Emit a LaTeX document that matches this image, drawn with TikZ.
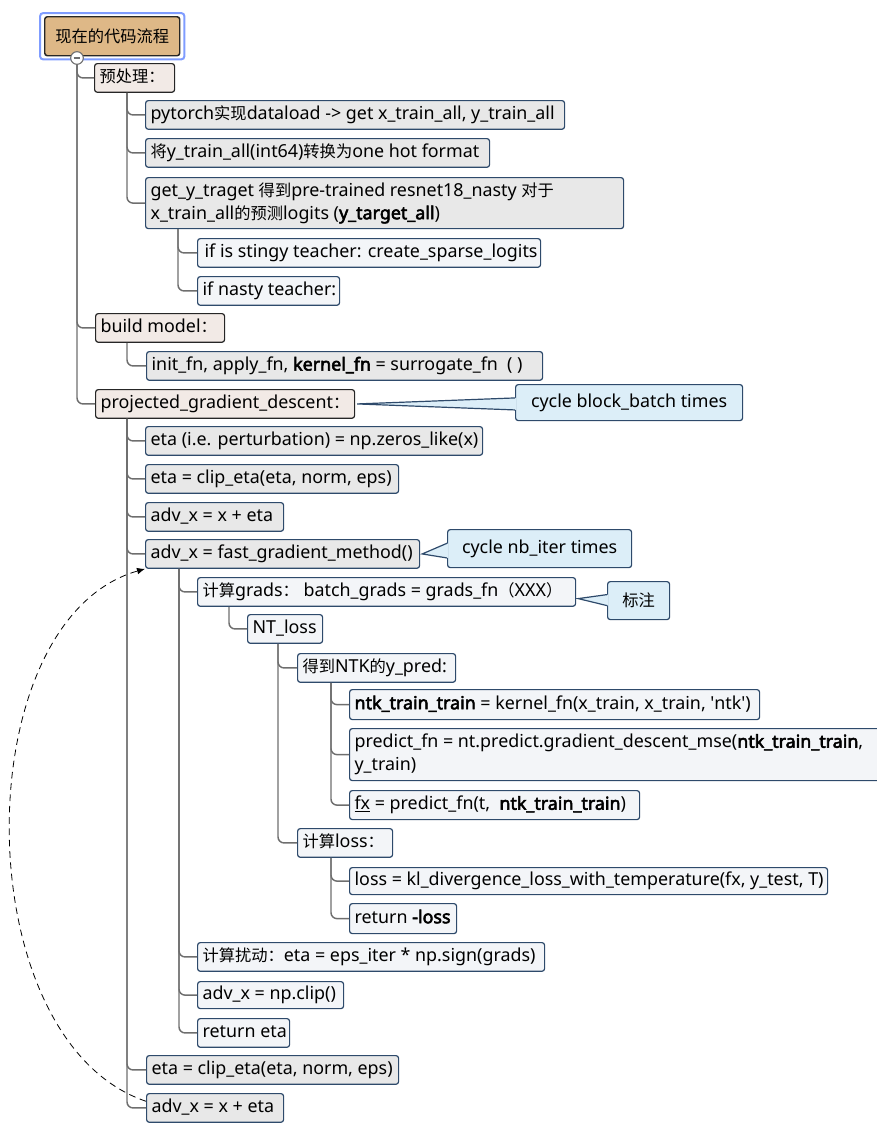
\documentclass[tikz,border=0pt]{standalone}
\usepackage{fontspec}
\setmainfont{Noto Sans}[BoldFont={Noto Sans},BoldFeatures={FakeBold=3}]
\newfontfamily\zh{Noto Sans CJK SC}[Scale=0.91]
\usetikzlibrary{arrows.meta}
\definecolor{keret}{HTML}{2E4A6B}
\definecolor{vonalszin}{HTML}{6E6E6E}
\definecolor{gyokszin}{HTML}{DEB887}
\definecolor{foszin}{HTML}{F2EAE6}
\definecolor{agszin}{HTML}{E8E8E8}
\definecolor{levszin}{HTML}{F3F5F8}
\definecolor{megjszin}{HTML}{DCEEF8}
\definecolor{kiemszin}{HTML}{7F9CFF}
\tikzset{
  doboz/.style={draw,rounded corners=2pt,anchor=north west,inner xsep=3.75pt,inner ysep=0pt,
    minimum height=21.5pt,line width=0.9pt},
  gyok/.style={doboz,fill=gyokszin,draw=black!85,minimum width=101.25pt,
    minimum height=29.25pt,line width=1.1pt},
  fo/.style={doboz,fill=foszin,draw=black!85},
  ag/.style={doboz,fill=agszin,draw=keret},
  lev/.style={doboz,fill=levszin,draw=keret},
  megj/.style={doboz,fill=megjszin,draw=keret},
  sz/.style={execute at begin node={\hbox to \dimexpr0.75pt*#1-7.5pt\relax\bgroup\strut},
    execute at end node={\hss\egroup}},
  vonal/.style={draw=vonalszin,line width=1.1pt,rounded corners=4.5pt},
  csuk/.style={circle,draw=vonalszin,fill=white,line width=0.8pt,inner sep=0pt,minimum size=9.5pt},
  hurok/.style={dashed,dash pattern=on 5pt off 3.5pt,line width=0.6pt,-{Latex[length=6pt,width=5pt]}},
}

\begin{document}
\begin{tikzpicture}[x=0.75pt,y=-0.75pt,font=\fontsize{13.4}{17.25}\selectfont]
  \useasboundingbox (0,0) rectangle (877,1125);
  % gyoker es fo agak
  \node[gyok] (gy) at (44,16) {\zh 现在的代码流程};
  \draw[kiemszin,line width=1.5pt,rounded corners=2.5pt]
    ([xshift=-3pt,yshift=2.25pt]gy.north west) rectangle ([xshift=3pt,yshift=-2.25pt]gy.south east);
  \node[fo,sz=80] (elo) at (94,63) {{\zh 预处理：}};
  \node[ag,sz=419] (a1) at (145,100) {pytorch{\zh 实现}dataload -> get x\_train\_all, y\_train\_all};
  \node[ag,sz=344] (a2) at (145,138) {{\zh 将}y\_train\_all(int64){\zh 转换为}one hot format};
  \node[ag,sz=478,minimum height=38.25pt] (a3) at (145,177)
    {\begin{tabular}{@{}l@{}}get\_y\_traget {\zh 得到}pre-trained resnet18\_nasty {\zh 对于}\\
     x\_train\_all{\zh 的预测}logits (\textbf{y\_target\_all})\end{tabular}};
  \node[lev,sz=343] (a31) at (197,238) {\hspace*{1.5pt}if is stingy teacher: create\_sparse\_logits};
  \node[lev,sz=142] (a32) at (197,276) {if nasty teacher:};
  \node[fo,sz=129] (bm) at (95,313) {build model{\zh ：}};
  \node[ag,sz=396] (b1) at (146,351) {init\_fn, apply\_fn, \textbf{kernel\_fn} = surrogate\_fn\ \ ( )};
  \node[fo,sz=259] (pgd) at (95,389) {projected\_gradient\_descent{\zh ：}};
  \node[megj,minimum width=170.25pt,minimum height=27pt] (c1) at (515,384) {cycle block\_batch times};
  \node[ag,sz=337] (p1) at (145,426) {eta (i.e. perturbation) = np.zeros\_like(x)};
  \node[ag,sz=253] (p2) at (145,464) {eta = clip\_eta(eta, norm, eps)};
  \node[ag,sz=138] (p3) at (145,502) {adv\_x = x + eta};
  \node[ag,sz=274] (p4) at (145,539) {adv\_x = fast\_gradient\_method()};
  \node[megj,minimum width=138pt,minimum height=28.5pt] (c2) at (447,529) {cycle nb\_iter times};
  \node[lev,sz=378] (q1) at (197,577) {{\zh 计算}grads{\zh ：}\ batch\_grads = grads\_fn{\zh （}XXX{\zh ）}};
  \node[megj,minimum width=46.5pt,minimum height=28.5pt] (c3) at (607,581) {\zh 标注};
  \node[lev,sz=75] (nt) at (247,614) {NT\_loss};
  \node[lev,sz=158] (y1) at (297,653) {{\zh 得到}NTK{\zh 的}y\_pred:};
  \node[lev,sz=410,minimum height=22.5pt] (r1) at (349,689)
    {\textbf{ntk\_train\_train} = kernel\_fn(x\_train, x\_train, \textquotesingle ntk\textquotesingle)};
  \node[lev,sz=560,minimum height=39pt] (r2) at (349,728)
    {\begin{tabular}{@{}l@{}}predict\_fn = nt.predict.gradient\_descent\_mse(\textbf{ntk\_train\_train},\\
     y\_train)\end{tabular}};
  \node[lev,sz=290,minimum height=21.75pt] (r3) at (349,790)
    {\underline{fx} = predict\_fn(t,\ \ \textbf{ntk\_train\_train})};
  \node[lev,sz=95] (y2) at (297,828) {{\zh 计算}loss{\zh ：}};
  \node[lev,sz=478,minimum height=20.25pt] (s1) at (349,867) {loss = kl\_divergence\_loss\_with\_temperature(fx, y\_test, T)};
  \node[lev,sz=107,minimum height=22.5pt] (s2) at (349,903) {return \textbf{-loss}};
  \node[lev,sz=347] (q2) at (197,942) {{\zh 计算扰动：}eta = eps\_iter * np.sign(grads)};
  \node[lev,sz=146,minimum height=20.25pt] (q3) at (197,981) {adv\_x = np.clip()};
  \node[lev,sz=92] (q4) at (197,1018) {return eta};
  \node[ag,sz=252] (p5) at (146,1055) {eta = clip\_eta(eta, norm, eps)};
  \node[ag,sz=137] (p6) at (146,1093) {adv\_x = x + eta};
  % osszekotok
  \foreach \sz/\gy/\d in {gy/elo/33,gy/bm/33,gy/pgd/33,elo/a1/33,elo/a2/33,elo/a3/33,
      a3/a31/33,a3/a32/33,bm/b1/32,pgd/p1/32,pgd/p2/32,pgd/p3/32,pgd/p4/32,pgd/p5/32,pgd/p6/32,
      p4/q1/34,p4/q2/34,p4/q3/34,p4/q4/34,q1/nt/32,nt/y1/31,nt/y2/31,
      y1/r1/34,y1/r2/34,y1/r3/34,y2/s1/34,y2/s2/34}
    \draw[vonal] ([xshift=\d*0.75pt]\sz.south west) |- (\gy.west);
  \node[csuk] (cs) at (77,58) {};
  \draw[vonalszin,line width=0.8pt] ([xshift=-2.5pt]cs.center) -- ([xshift=2.5pt]cs.center);
  % megjegyzesek nyelve
  \foreach \m/\c/\f/\a/\t in {c1/pgd/3.5/-5.5/0,c2/p4/4/-7/0,c3/q1/4.5/-3.75/-5} {
    \fill[megjszin] ([xshift=1pt,yshift=\f pt]\m.west) -- ([xshift=1.5pt,yshift=\t pt]\c.east)
      -- ([xshift=1pt,yshift=\a pt]\m.west) -- cycle;
    \draw[keret,line width=0.9pt] ([yshift=\f pt]\m.west) -- ([xshift=1.5pt,yshift=\t pt]\c.east)
      -- ([yshift=\a pt]\m.west);
  }
  % visszacsatolas
  \draw[hurok] ([yshift=5pt]p6.west) .. controls (-35,1040) and (-35,620) .. (p4.south west);
\end{tikzpicture}
\end{document}
